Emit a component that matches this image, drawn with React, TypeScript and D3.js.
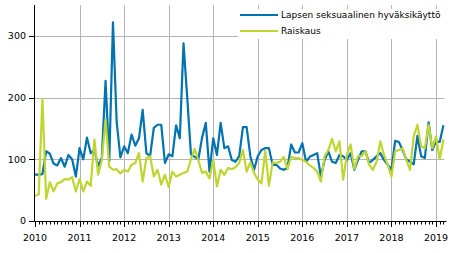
import React from 'react';
import * as d3 from 'd3';

const years = ['2010', '2011', '2012', '2013', '2014', '2015', '2016', '2017', '2018', '2019'];
const yTicks = [0, 100, 200, 300];

// monthly counts, Jan 2010 - Mar 2019
const lapsen = [
  75, 75, 76, 113, 109, 93, 90, 102, 88, 107, 100, 72,
  118, 100, 135, 110, 115, 89, 102, 227, 97, 322, 160, 103,
  121, 110, 140, 122, 134, 180, 110, 105, 151, 156, 156, 94,
  108, 105, 155, 134, 288, 200, 108, 104, 100, 135, 159, 80,
  134, 107, 159, 118, 121, 99, 96, 105, 152, 152, 105, 83,
  105, 115, 118, 118, 91, 91, 85, 83, 86, 124, 111, 111,
  126, 96, 104, 107, 110, 72, 99, 113, 96, 94, 107, 105,
  99, 110, 83, 99, 113, 113, 94, 99, 105, 110, 99, 91,
  83, 130, 128, 115, 100, 96, 92, 138, 105, 102, 160, 115,
  129, 128, 155,
];
const raiskaus = [
  41, 43, 198, 36, 63, 48, 61, 63, 68, 67, 71, 48,
  68, 48, 64, 57, 132, 75, 99, 164, 88, 83, 84, 77,
  83, 80, 91, 94, 110, 64, 102, 105, 72, 83, 59, 75,
  55, 80, 72, 75, 78, 80, 100, 117, 98, 78, 80, 69,
  99, 56, 83, 75, 86, 84, 87, 94, 115, 80, 95, 78,
  67, 61, 114, 57, 95, 94, 96, 104, 84, 104, 102, 102,
  99, 96, 90, 86, 80, 64, 105, 115, 133, 113, 129, 67,
  108, 124, 84, 105, 105, 113, 91, 83, 96, 129, 107, 91,
  72, 113, 115, 118, 99, 83, 137, 156, 121, 118, 156, 118,
  137, 100, 132,
];

const series = [
  { name: 'Lapsen seksuaalinen hyväksikäyttö', values: lapsen, color: '#0073b0' },
  { name: 'Raiskaus', values: raiskaus, color: '#bed62f' },
];

const font = 'DejaVu Sans, Verdana, sans-serif';

export default function App() {
  const x = d3.scaleLinear().domain([0, 108]).range([35, 436]);
  const y = d3.scaleLinear().domain([0, 350]).range([221, 5]);
  const xEnd = x(110.8);

  const line = d3.line<number>()
    .x((_, i) => x(i))
    .y(d => y(d));

  const months = d3.range(0, 111);

  return (
    <svg width={454} height={253} style={{ position: 'absolute', left: 0, top: 0, background: '#fff' }}
      fontFamily={font} fontSize={9.5}>
      {/* grid */}
      {yTicks.slice(1).map(t => (
        <line key={'gy' + t} x1={35} x2={xEnd - 2} y1={Math.round(y(t)) + 0.5} y2={Math.round(y(t)) + 0.5}
          stroke="#b4b4b4" strokeWidth={1} />
      ))}
      {years.slice(1).map((yr, k) => {
        const px = Math.round(x((k + 1) * 12)) + 0.5;
        return <line key={'gx' + yr} x1={px} x2={px} y1={5} y2={221} stroke="#b4b4b4" strokeWidth={1} />;
      })}

      {/* lines */}
      {series.map(s => (
        <path key={s.name} d={line(s.values) || ''} fill="none" stroke={s.color} strokeWidth={2.2}
          strokeLinejoin="round" />
      ))}

      {/* legend */}
      <rect x={238} y={9} width={210} height={30} fill="#fff" />
      {series.map((s, i) => (
        <g key={'lg' + i} transform={`translate(240,${15 + i * 16})`}>
          <line x1={0} x2={38} y1={0} y2={0} stroke={s.color} strokeWidth={2.2} />
          <text x={41} y={3.3} fill="#000" fontSize={9}>{s.name}</text>
        </g>
      ))}

      {/* y axis */}
      <line x1={34.5} x2={34.5} y1={5} y2={221.5} stroke="#000" strokeWidth={1} />
      {yTicks.map(t => (
        <g key={'yt' + t}>
          <line x1={29} x2={34.5} y1={Math.round(y(t)) + 0.5} y2={Math.round(y(t)) + 0.5} stroke="#000" />
          <text x={26} y={y(t)} dy="0.35em" textAnchor="end" fill="#000">{t}</text>
        </g>
      ))}

      {/* x axis */}
      <line x1={34.5} x2={xEnd} y1={221.5} y2={221.5} stroke="#000" strokeWidth={1} />
      {months.map(m => {
        const px = Math.round(x(m)) + 0.5;
        const major = m % 12 === 0;
        return <line key={'mt' + m} x1={px} x2={px} y1={221.5} y2={major ? 227 : 224.5} stroke="#000" />;
      })}
      {years.map((yr, k) => (
        <text key={'yl' + yr} x={x(k * 12)} y={240.5} textAnchor="middle" fill="#000">{yr}</text>
      ))}
    </svg>
  );
}
